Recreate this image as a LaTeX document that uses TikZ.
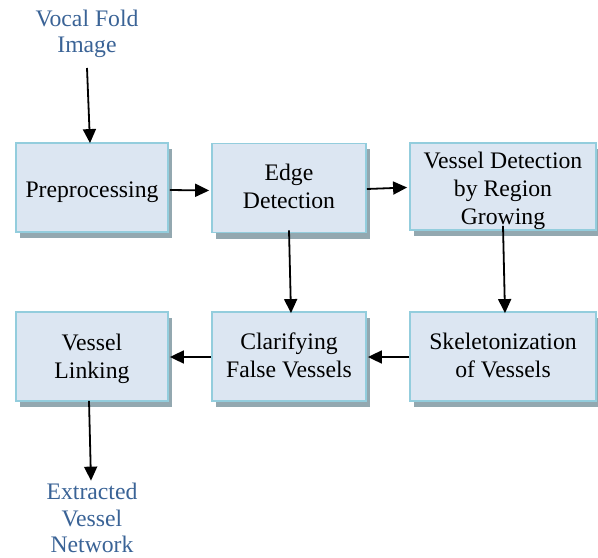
\documentclass[tikz,border=0pt]{standalone}
\usepackage{fontspec}
\setmainfont{Liberation Serif}
\usetikzlibrary{arrows.meta,shadows}
\definecolor{boxfill}{HTML}{DCE6F2}
\definecolor{boxline}{HTML}{93CDDD}
\definecolor{shadowc}{HTML}{93A8B0}
\definecolor{txtblue}{HTML}{3A6396}
\newcommand{\lowertext}[2]{\raisebox{-#1}[\height][\depth]{\begin{tabular}{@{}c@{}}#2\end{tabular}}}
\begin{document}
\begin{tikzpicture}[x=1bp,y=-1bp,
  stage/.style={draw=boxline, line width=1.8bp, fill=boxfill, align=center,
    inner sep=0pt, minimum height=89bp,
    general shadow={fill=shadowc, shadow xshift=4bp, shadow yshift=-6bp},
    font=\fontsize{23.7bp}{28bp}\selectfont},
  io/.style={align=center, text=txtblue, font=\fontsize{23.7bp}{26.5bp}\selectfont},
  arr/.style={-{Triangle[length=14bp,width=13bp]}, line width=1.8bp, black}]
\useasboundingbox (0,0) rectangle (598,558);
\node[stage, minimum width=152bp] (pre)  at (92,187.5) {\lowertext{4bp}{Preprocessing}};
\node[stage, minimum width=154bp] (edge) at (289,188) {\lowertext{1bp}{Edge\\Detection}};
\node[stage, minimum width=186bp, minimum height=87bp] (vd) at (503,186.5) {\lowertext{4.5bp}{Vessel Detection\\by Region\\Growing}};
\node[stage, minimum width=152bp] (link) at (92,356.5) {\lowertext{2bp}{Vessel\\Linking}};
\node[stage, minimum width=154bp] (clar) at (289,356.5) {\lowertext{1bp}{Clarifying\\False Vessels}};
\node[stage, minimum width=186bp] (skel) at (503,356.5) {\lowertext{1bp}{Skeletonization\\of Vessels}};
\node[io] (in) at (87,34) {Vocal Fold\\Image};
\node[io] (out) at (92,518) {Extracted\\Vessel\\Network};
\coordinate (a0) at (87,68);
\draw[arr] (a0) -- ([xshift=-2bp,yshift=-1bp]pre.north);
\draw[arr] ([xshift=1bp,yshift=-2.5bp]pre.east) -- ([xshift=-2bp,yshift=-2.5bp]edge.west);
\draw[arr] ([yshift=-1bp]edge.east) -- ([xshift=-2bp,yshift=-1bp]vd.west);
\draw[arr] ([yshift=3bp]edge.south) -- ([xshift=2bp,yshift=-2bp]clar.north);
\draw[arr] ([yshift=5bp]vd.south) -- ([xshift=2bp,yshift=-2bp]skel.north);
\draw[arr] ([yshift=-0.5bp]skel.west) -- ([xshift=1bp,yshift=-0.5bp]clar.east);
\draw[arr] ([yshift=-0.5bp]clar.west) -- ([xshift=1bp,yshift=-0.5bp]link.east);
\draw[arr] ([xshift=-3bp,yshift=1bp]link.south) -- ([xshift=-1bp,yshift=-1bp]out.north);
\end{tikzpicture}
\end{document}
